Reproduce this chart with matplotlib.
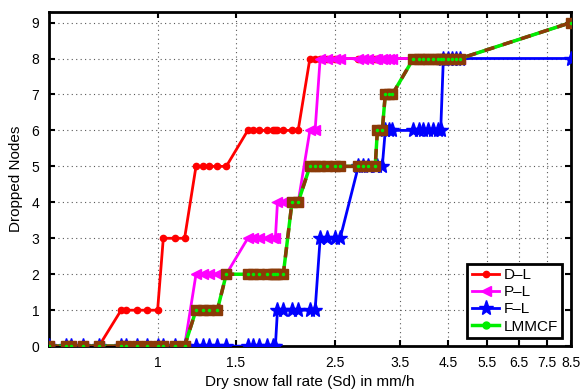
import matplotlib
matplotlib.use("Agg")
import matplotlib.pyplot as plt
from matplotlib.ticker import FixedLocator, FixedFormatter, NullLocator

plt.rcParams['font.family'] = ['Liberation Sans', 'DejaVu Sans']

# Dry snow fall rate (mm/h), common abscissa for all series
sd = [0.57, 0.622, 0.639, 0.678, 0.738, 0.828, 0.849, 0.898, 0.947, 1.0,
      1.03, 1.095, 1.15, 1.22, 1.263, 1.303, 1.362, 1.427, 1.595, 1.638,
      1.692, 1.76, 1.817, 1.84, 1.86, 1.917, 2.005, 2.07, 2.2, 2.26,
      2.32, 2.405, 2.506, 2.573, 2.827, 2.9, 2.97, 3.085, 3.12, 3.2,
      3.25, 3.31, 3.37, 3.76, 3.86, 3.96, 4.06, 4.17, 4.26, 4.33,
      4.39, 4.5, 4.6, 4.69, 4.79, 8.5]

d_l = [0, 0, 0, 0, 0, 1, 1, 1, 1, 1,
       3, 3, 3, 5, 5, 5, 5, 5, 6, 6,
       6, 6, 6, 6, 6, 6, 6, 6, 8, 8,
       8, 8, 8, 8, 8, 8, 8, 8, 8, 8,
       8, 8, 8, 8, 8, 8, 8, 8, 8, 8,
       8, 8, 8, 8, 8, 9]

p_l = [0, 0, 0, 0, 0, 0, 0, 0, 0, 0,
       0, 0, 0, 2, 2, 2, 2, 2, 3, 3,
       3, 3, 3, 3, 4, 4, 4, 4, 6, 6,
       8, 8, 8, 8, 8, 8, 8, 8, 8, 8,
       8, 8, 8, 8, 8, 8, 8, 8, 8, 8,
       8, 8, 8, 8, 8, 9]

f_l = [0, 0, 0, 0, 0, 0, 0, 0, 0, 0,
       0, 0, 0, 0, 0, 0, 0, 0, 0, 0,
       0, 0, 0, 0, 1, 1, 1, 1, 1, 1,
       3, 3, 3, 3, 5, 5, 5, 5, 5, 5,
       6, 6, 6, 6, 6, 6, 6, 6, 6, 6,
       8, 8, 8, 8, 8, 8]

lmmcf = [0, 0, 0, 0, 0, 0, 0, 0, 0, 0,
         0, 0, 0, 1, 1, 1, 1, 2, 2, 2,
         2, 2, 2, 2, 2, 2, 4, 4, 5, 5,
         5, 5, 5, 5, 5, 5, 5, 5, 6, 6,
         7, 7, 7, 8, 8, 8, 8, 8, 8, 8,
         8, 8, 8, 8, 8, 9]

xticks = [1, 1.5, 2.5, 3.5, 4.5, 5.5, 6.5, 7.5, 8.5]
xticklabels = ['1', '1.5', '2.5', '3.5', '4.5', '5.5', '6.5', '7.5', '8.5']
yticks = list(range(10))

brown = '#8B3A08'

fig = plt.figure(figsize=(5.82, 3.92), dpi=100)
ax = fig.add_axes([0.0842, 0.117, 0.8969, 0.853])

ax.plot(sd, d_l, color='red', lw=2, marker='.', ms=9, label='D\u2013L', zorder=3)
ax.plot(sd, p_l, color='magenta', lw=2, marker='<', ms=7.5, label='P\u2013L', zorder=3)
ax.plot(sd, f_l, color='blue', lw=2, marker='*', ms=11, label='F\u2013L', zorder=3)
ax.plot(sd, lmmcf, color='#00ee00', lw=2.5, marker='o', ms=5, label='LMMCF', zorder=4)
ax.plot(sd, lmmcf, color=brown, lw=2.5, ls=(0, (3, 2.5)), marker='s', ms=7.5,
        mfc=brown, mec=brown, zorder=5)
ax.plot(sd, lmmcf, ls='none', marker='.', ms=3, color='#00ee00', zorder=6)

ax.set_xscale('log')
ax.set_xlim(0.57, 8.5)
ax.set_ylim(0, 9.3)
ax.xaxis.set_major_locator(FixedLocator(xticks))
ax.xaxis.set_major_formatter(FixedFormatter(xticklabels))
ax.xaxis.set_minor_locator(NullLocator())
ax.set_yticks(yticks)

ax.grid(True, which='major', ls=(0, (1, 3)), color='0.35', lw=0.8)
for s in ax.spines.values():
    s.set_linewidth(2)
ax.tick_params(direction='in', top=True, right=True, length=4, width=1.5,
               labelsize=10)
ax.tick_params(axis='x', pad=7)
ax.tick_params(axis='y', pad=7)

ax.set_xlabel('Dry snow fall rate (Sd) in mm/h', fontsize=11, labelpad=4)
ax.set_ylabel('Dropped Nodes', fontsize=11, labelpad=6)

leg = ax.legend(loc='lower right', bbox_to_anchor=(0.983, 0.024), borderaxespad=0,
                fancybox=False, framealpha=1, edgecolor='black', fontsize=11,
                handlelength=1.8, handletextpad=0.25, labelspacing=0.2,
                borderpad=0.3)
leg.get_frame().set_linewidth(2)

fig.savefig('out.png', dpi=100)
